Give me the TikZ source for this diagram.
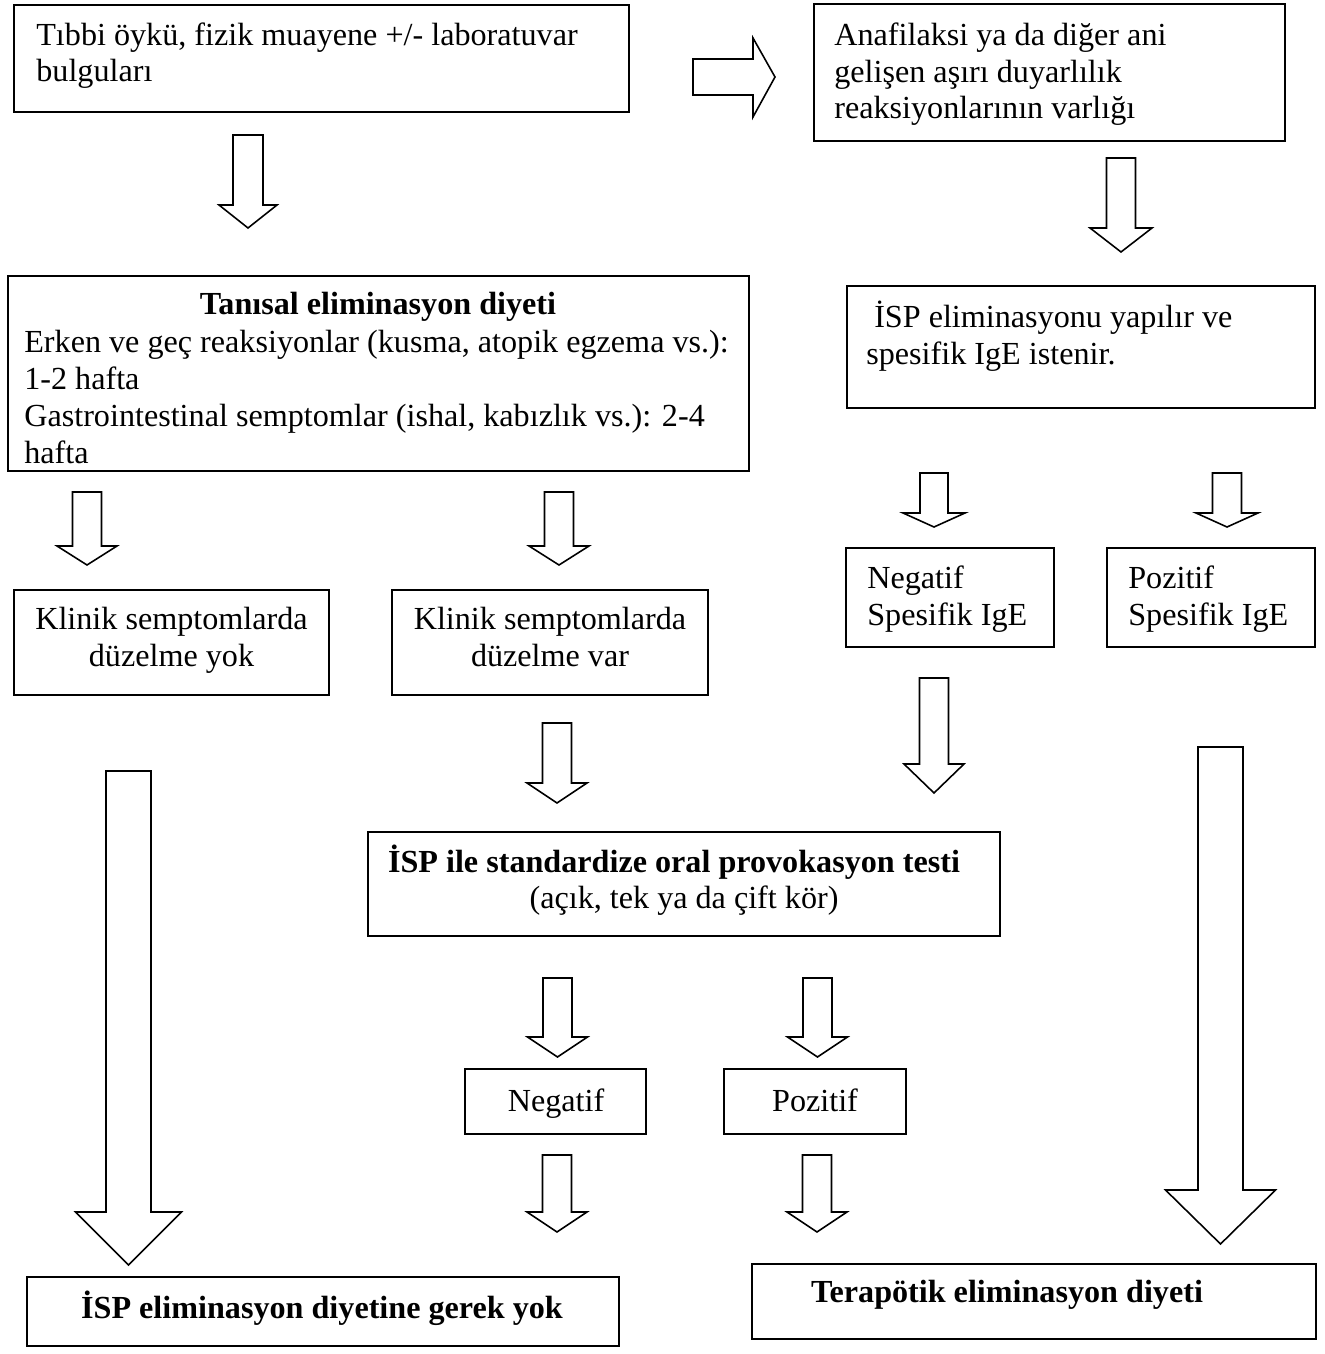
\documentclass[tikz,border=0pt]{standalone}
\usepackage{fontspec}
\setmainfont{Liberation Serif}
\usetikzlibrary{fit}
\begin{document}
\begin{tikzpicture}[x=0.02cm,y=-0.02cm,
  box/.style={draw,line width=1.1pt,inner sep=0pt},
  txt/.style={inner sep=0pt,font=\fontsize{18.3}{21}\selectfont,align=left},
  txtc/.style={inner sep=0pt,font=\fontsize{18.3}{21}\selectfont,align=center},
  btxt/.style={inner sep=0pt,font=\fontsize{18.3}{21}\selectfont\bfseries,align=center},
  arrowline/.style={draw,line width=0.9pt,fill=white,line join=miter},
  pics/dnarrow/.style n args={4}{code={\draw[arrowline] (-#1,0) -- (#1,0) -- (#1,#3) -- (#2,#3) -- (0,#4) -- (-#2,#3) -- (-#1,#3) -- cycle;}}]
\useasboundingbox (0,0) rectangle (1324,1354);

% boxes
\node[box,fit={(14,5) (629,112)}] (A) {};
\node[box,fit={(814,4) (1285,141)}] (B) {};
\node[box,fit={(8,276) (749,471)}] (C) {};
\node[box,fit={(847,286) (1315,408)}] (D) {};
\node[box,fit={(14,590) (329,695)}] (E) {};
\node[box,fit={(392,590) (708,695)}] (F) {};
\node[box,fit={(846,548) (1054,647)}] (G) {};
\node[box,fit={(1107,548) (1315,647)}] (H) {};
\node[box,fit={(368,832) (1000,936)}] (I) {};
\node[box,fit={(465,1069) (646,1134)}] (J) {};
\node[box,fit={(724,1069) (906,1134)}] (K) {};
\node[box,fit={(27,1277) (619,1346)}] (L) {};
\node[box,fit={(752,1264) (1316,1339)}] (M) {};

% texts (base anchor = baseline of the last line)
\node[txt,anchor=base west] (At) at (36,82) {Tıbbi öykü, fizik muayene +/- laboratuvar\\bulguları};
\node[txt,anchor=base west] (Bt) at (834,119) {Anafilaksi ya da diğer ani\\gelişen aşırı duyarlılık\\reaksiyonlarının varlığı};
\node[btxt,anchor=base] (Ct1) at (378,315) {Tanısal eliminasyon diyeti};
\node[txt,anchor=base west] (Ct2) at (24,463) {Erken ve geç reaksiyonlar (kusma, atopik egzema vs.):\\1-2 hafta\\Gastrointestinal semptomlar (ishal, kabızlık vs.): 2-4\\hafta};
\node[txt,anchor=base west] (Dt) at (866,364) {\hspace{4.5pt}İSP eliminasyonu yapılır ve\\spesifik IgE istenir.};
\node[txtc,anchor=base] (Et) at (171.5,666) {Klinik semptomlarda\\düzelme yok};
\node[txtc,anchor=base] (Ft) at (550,666) {Klinik semptomlarda\\düzelme var};
\node[txt,anchor=base west] (Gt) at (867,625) {Negatif\\Spesifik IgE};
\node[txt,anchor=base west] (Ht) at (1128,625) {Pozitif\\Spesifik IgE};
\node[btxt,anchor=base] (It1) at (674,872) {İSP ile standardize oral provokasyon testi};
\node[txtc,anchor=base] (It2) at (684,908) {(açık, tek ya da çift kör)};
\node[txtc,anchor=base] (Jt) at (556,1111) {Negatif};
\node[txtc,anchor=base] (Kt) at (815,1111) {Pozitif};
\node[btxt,anchor=base] (Lt) at (322,1318) {İSP eliminasyon diyetine gerek yok};
\node[btxt,anchor=base] (Mt) at (1007,1302) {Terapötik eliminasyon diyeti};

% block arrows
\draw[arrowline] (693,59) -- (753,59) -- (753,38) -- (775,77) -- (753,117) -- (753,95) -- (693,95) -- cycle;
\pic at (248,135) {dnarrow={15}{29}{70}{93}};
\pic at (1121,158) {dnarrow={14.5}{31}{70}{94}};
\pic at (87,492) {dnarrow={14.5}{30}{54}{73}};
\pic at (559,492) {dnarrow={14.5}{30}{54}{73}};
\pic at (934,473) {dnarrow={14}{31}{40}{54}};
\pic at (1227,473) {dnarrow={14.5}{31}{40}{54}};
\pic at (934,678) {dnarrow={14.5}{30}{86}{115}};
\pic at (557,723) {dnarrow={14.5}{30}{60}{80}};
\pic at (128.5,771) {dnarrow={22.5}{53}{441}{494}};
\pic at (1220.5,747) {dnarrow={22.5}{55}{443}{497}};
\pic at (557.5,978) {dnarrow={14.5}{30}{59}{79}};
\pic at (817.5,978) {dnarrow={14.5}{30}{59}{79}};
\pic at (557,1155) {dnarrow={14.5}{30}{57}{77}};
\pic at (817,1155) {dnarrow={14.5}{30}{57}{77}};
\end{tikzpicture}
\end{document}
